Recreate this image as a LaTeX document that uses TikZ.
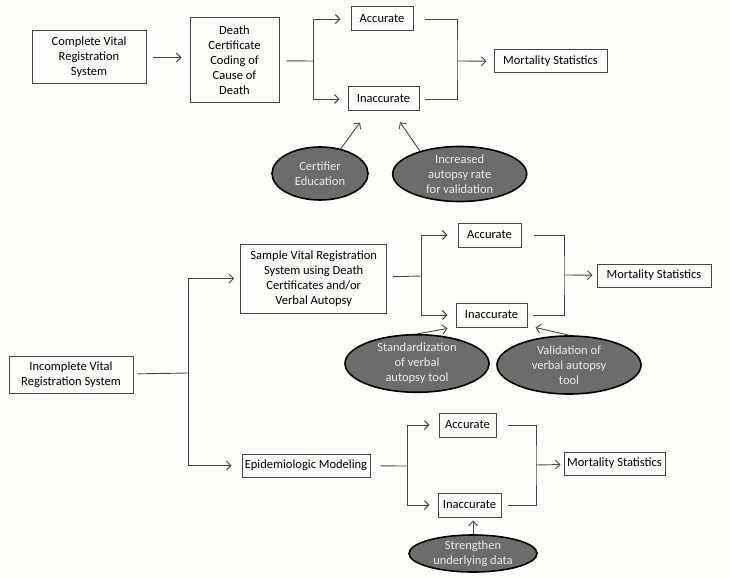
\documentclass[tikz,border=0pt]{standalone}
\usepackage{fontspec}
\setmainfont{Carlito}
\usepackage{xcolor}
\usepackage{tikz}
\usetikzlibrary{shapes.geometric,arrows.meta}

\definecolor{paper}{RGB}{254,254,250}
\definecolor{wire}{RGB}{70,70,70}
\definecolor{ovalfill}{RGB}{108,108,108}
\definecolor{ovaltext}{RGB}{232,232,232}

\begin{document}
\begin{tikzpicture}[
    x=1pt, y=-1pt,
    font=\fontsize{12.5}{15}\selectfont,
    box/.style={rectangle, draw=wire, line width=1pt, inner sep=0pt, align=center},
    oval/.style={ellipse, draw=black, line width=1.6pt, fill=ovalfill, text=ovaltext, inner sep=0pt, align=center},
    line/.style={draw=wire, line width=0.9pt},
    arrow/.style={line, -{Straight Barb[length=4.5pt,width=9pt]}}
]
    \fill[paper] (0,0) rectangle (729,578);
    \useasboundingbox (0,0) rectangle (729,578);

    % Nodes: complete registration
    \node[box, minimum width=114pt, minimum height=53pt] (complete) at (89,57.5) {Complete Vital\\Registration\\System};
    \node[box, minimum width=89pt, minimum height=85pt] (death) at (234.5,60.5) {Death\\Certificate\\Coding of\\Cause of\\Death};
    \node[box, minimum width=62pt, minimum height=24pt] (acc1) at (382,19) {Accurate};
    \node[box, minimum width=71pt, minimum height=24pt] (inacc1) at (383.5,99) {Inaccurate};
    \node[box, minimum width=113pt, minimum height=23pt] (mort1) at (550.5,61.5) {Mortality Statistics};
    \node[oval, minimum width=96pt, minimum height=53pt] (cert) at (320,173.5) {Certifier\\Education};
    \node[oval, minimum width=134pt, minimum height=55pt] (incr) at (459.7,174) {Increased\\autopsy rate\\for validation};

    % Nodes: incomplete registration
    \node[box, minimum width=124pt, minimum height=37pt] (incomplete) at (71,375) {Incomplete Vital\\Registration System};
    \node[box, minimum width=146pt, minimum height=69pt] (sample) at (313.7,278.5) {Sample Vital Registration\\System using Death\\Certificates and/or\\Verbal Autopsy};
    \node[box, minimum width=63pt, minimum height=24pt] (acc2) at (489.5,235) {Accurate};
    \node[box, minimum width=71pt, minimum height=24pt] (inacc2) at (491.5,315) {Inaccurate};
    \node[box, minimum width=114pt, minimum height=23pt] (mort2) at (654,275.5) {Mortality Statistics};
    \node[oval, minimum width=144pt, minimum height=57pt] (stand) at (417,363.5) {Standardization\\of verbal\\autopsy tool};
    \node[oval, minimum width=144pt, minimum height=58pt] (valid) at (569,365) {Validation of\\verbal autopsy\\tool};

    \node[box, minimum width=128pt, minimum height=23pt] (epi) at (306,465.5) {Epidemiologic Modeling};
    \node[box, minimum width=57pt, minimum height=24pt] (acc3) at (467.5,425) {Accurate};
    \node[box, minimum width=63pt, minimum height=24pt] (inacc3) at (469.5,505) {Inaccurate};
    \node[box, minimum width=101pt, minimum height=23pt] (mort3) at (614.5,463.5) {Mortality Statistics};
    \node[oval, minimum width=128pt, minimum height=37pt] (strength) at (473,553.5) {Strengthen\\underlying data};

    % Branch points
    \coordinate (fork1) at (313,61);
    \coordinate (join1) at (457,61);
    \coordinate (fork2) at (188,373);
    \coordinate (fork3) at (421.7,276);
    \coordinate (join2) at (564,275);
    \coordinate (fork4) at (407,466);
    \coordinate (join3) at (536,465);

    % Arrows: top
    \draw[arrow, shorten <=6pt, shorten >=8pt] (complete) -- (complete -| death.west);
    \draw[line, shorten <=7pt] (death) -- (fork1);
    \draw[arrow, shorten >=10pt] (fork1) |- (acc1);
    \draw[arrow, shorten >=8pt] (fork1) |- (inacc1);
    \draw[line] ([xshift=11pt]acc1.east) -| (join1) |- ([xshift=5pt]inacc1.east);
    \draw[arrow, shorten >=7pt] (join1) -- (mort1);
    \draw[arrow] (cert.50) -- ([shift={(-23.5,11)}]inacc1.south);
    \draw[arrow] (incr.150) -- ([shift={(16.5,10.7)}]inacc1.south);

    % Arrows: middle
    \draw[line, shorten <=4pt] (incomplete) -- (fork2);
    \draw[arrow, shorten >=6pt] (fork2) |- (sample);
    \draw[arrow, shorten >=10pt] (fork2) |- (epi);
    \draw[line, shorten <=6pt] (sample) -- (fork3);
    \draw[arrow, shorten >=10pt] (fork3) |- (acc2);
    \draw[arrow, shorten >=8pt] (fork3) |- (inacc2);
    \draw[line] ([xshift=12pt]acc2.east) -| (join2) |- ([xshift=5pt]inacc2.east);
    \draw[arrow, shorten >=4pt] (join2) -- (mort2);
    \draw[arrow] (stand.north) -- ([shift={(-8,1)}]inacc2.south west);
    \draw[arrow] (valid.north) -- ([shift={(8,0)}]inacc2.south east);

    % Arrows: bottom
    \draw[line, shorten <=10pt] (epi) -- (fork4);
    \draw[arrow, shorten >=9pt] (fork4) |- (acc3);
    \draw[arrow, shorten >=8pt] (fork4) |- (inacc3);
    \draw[line] ([xshift=11pt]acc3.east) -| (join3) |- ([xshift=6pt]inacc3.east);
    \draw[arrow, shorten >=3pt] (join3) -- (mort3);
    \draw[arrow, shorten >=3pt] (strength.north) -- (strength.north |- inacc3.south);
\end{tikzpicture}
\end{document}
